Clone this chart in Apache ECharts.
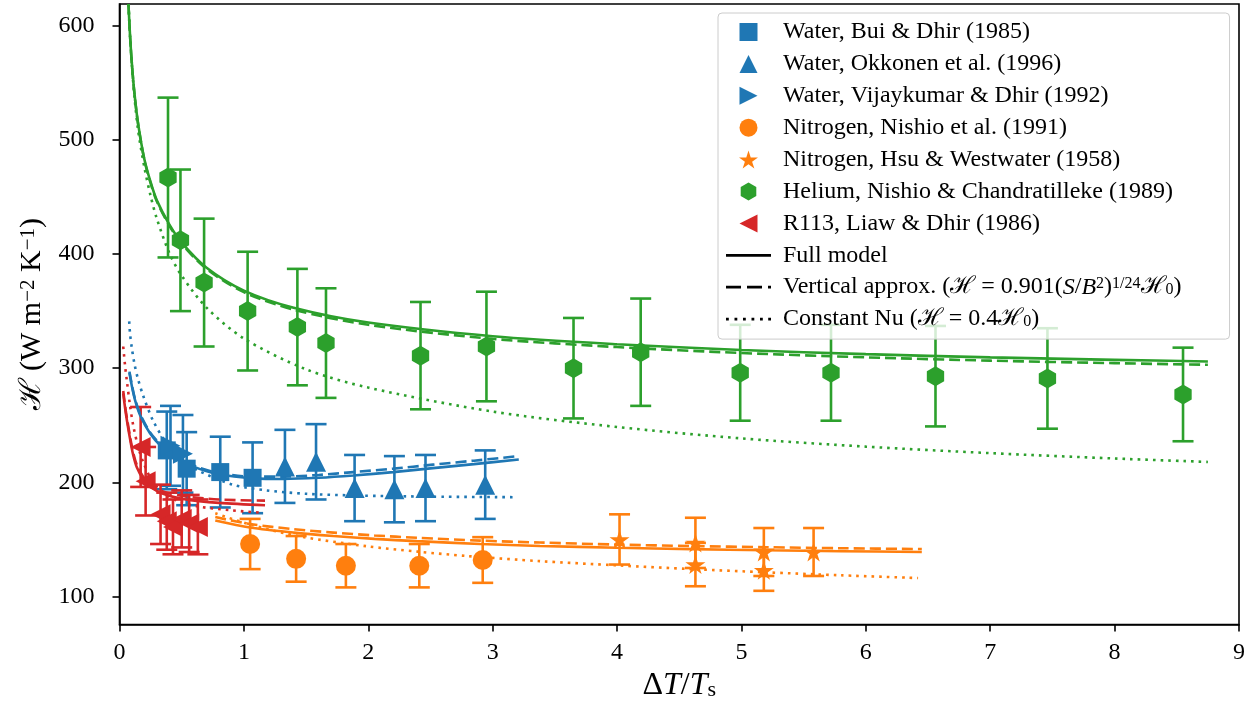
<!DOCTYPE html>
<html>
<head>
<meta charset="utf-8">
<script src="https://cdn.jsdelivr.net/npm/echarts@6/dist/echarts.min.js"></script>
<style>
  html, body { margin: 0; padding: 0; background: #ffffff; }
  #chart { width: 1260px; height: 714px; }
</style>
</head>
<body>
<div id="chart"></div>
<script>
// ---- Measured film-boiling heat transfer coefficients (mean and +/- error) ----
const buiX = [0.38, 0.54, 0.81, 1.07];
const buiY = [228, 212, 209, 204];
const buiErr = [34, 32, 31, 31];

const okkX = [1.33, 1.58, 1.89, 2.21, 2.46, 2.94];
const okkY = [214, 218, 195, 194, 195, 198];
const okkErr = [32, 33, 29, 29, 29, 30];

const vijX = [0.41, 0.51];
const vijY = [232, 225];
const vijErr = [35, 34];

const nisX = [1.05, 1.42, 1.82, 2.41, 2.92];
const nisY = [146, 133, 127, 127, 132];
const nisErr = [22, 20, 19, 19, 20];

const hsuX = [4.02, 4.63, 4.63, 5.18, 5.18, 5.58];
const hsuY = [150, 147, 128, 139, 123, 139];
const hsuErr = [22, 22, 19, 21, 18, 21];

const helX = [0.39, 0.49, 0.68, 1.03, 1.43, 1.66, 2.42, 2.95, 3.65, 4.19, 4.99, 5.72, 6.56, 7.46, 8.55];
const helY = [467, 412, 375, 350, 336, 322, 311, 319, 300, 314, 296, 296, 293, 291, 277];
const helErr = [70, 62, 56, 52, 51, 48, 47, 48, 44, 47, 42, 42, 44, 44, 41];

const r113X = [0.17, 0.21, 0.33, 0.38, 0.43, 0.5, 0.56, 0.63];
const r113Y = [231, 201, 172, 166, 161, 168, 164, 161];
const r113Err = [35, 30, 26, 25, 24, 25, 25, 24];

// ---- Model curves: full model, vertical approximation, constant Nu ----
const waterX = [0.08, 0.1, 0.125, 0.165, 0.245, 0.34, 0.45, 0.59, 0.78, 1.08, 1.32, 1.6, 1.88, 2.2, 2.52, 2.85, 3.21];
const waterFull = [296, 284, 272, 259, 243, 231, 222, 214, 207.5, 203.5, 203, 204, 206, 209, 212.5, 216, 220];
const waterVert = [297, 285, 273, 260, 244, 232, 223, 215, 208.5, 205, 205, 206.5, 209, 212, 215.5, 219, 223];
const waterNuX = [0.078, 0.085, 0.1, 0.12, 0.145, 0.19, 0.27, 0.38, 0.5, 0.62, 0.91, 1.18, 1.5, 1.9, 2.5, 3.2];
const waterNu = [341, 330, 317, 304, 292, 276, 254, 234, 220, 211, 198, 193, 190, 188.5, 187.5, 187];

const nitroX = [0.77, 1.05, 1.4, 1.72, 2.05, 2.39, 2.9, 3.38, 4.0, 4.6, 5.2, 5.8, 6.45];
const nitroFull = [166.6, 160.5, 156, 153, 150.5, 148.5, 146, 144.3, 142.7, 141.5, 140.5, 139.7, 139];
const nitroVert = [169.6, 163.5, 159, 156, 153.5, 151.5, 149, 147.3, 145.5, 144.2, 143.2, 142.3, 141.6];
const nitroNuX = [0.77, 1.05, 1.45, 1.99, 2.4, 2.79, 3.38, 4.0, 4.61, 5.2, 5.8, 6.42];
const nitroNu = [173, 163, 152.7, 144, 139.3, 135.5, 131, 127.3, 124, 121.2, 118.6, 116.2];

const heliumX = [0.072, 0.085, 0.1, 0.12, 0.15, 0.2, 0.25, 0.3, 0.4, 0.5, 0.7, 1.0, 1.4, 2.0, 3.0, 4.0, 5.0, 6.0, 7.0, 8.0, 8.75];
const heliumFull = [619, 591, 566, 541, 514, 483, 463, 447, 426, 410, 388, 368, 353, 340, 328, 321, 316, 312.3, 309.5, 307.3, 305.9];
const heliumVert = [619, 590.5, 565.5, 540.5, 513.5, 482.3, 462.2, 446.2, 425, 409, 387, 366.6, 351.3, 338, 325.7, 318.5, 313.3, 309.5, 306.6, 304.4, 303];
const heliumNuX = [0.072, 0.085, 0.1, 0.12, 0.15, 0.2, 0.25, 0.3, 0.4, 0.5, 0.7, 1.0, 1.5, 2.0, 3.0, 4.0, 5.0, 6.0, 7.0, 8.0, 8.75];
const heliumNu = [619, 591, 565, 538, 508, 476, 451, 431, 401, 381, 353, 326, 299, 283, 262, 248.5, 238.5, 231.3, 225.6, 220.9, 217.9];

const r113LineX = [0.03, 0.045, 0.06, 0.085, 0.11, 0.14, 0.19, 0.245, 0.35, 0.51, 0.8, 1.17];
const r113Full = [278, 265, 254, 238, 224, 213, 203, 196.5, 190, 185.5, 182, 180];
const r113Vert = [280, 267, 256, 240, 226, 215, 205, 198.5, 192, 188, 185, 184];
const r113NuX = [0.03, 0.045, 0.058, 0.085, 0.11, 0.15, 0.19, 0.27, 0.38, 0.5, 0.65, 0.9, 1.13];
const r113Nu = [319, 302, 290, 267, 250, 231, 218, 200, 188.5, 182.5, 178.5, 175.5, 173.5];

// ---- Axes ----
const xTicks = [0, 1, 2, 3, 4, 5, 6, 7, 8, 9];
const yTicks = [100, 200, 300, 400, 500, 600];

const C_WATER = '#1f77b4', C_N2 = '#ff7f0e', C_HE = '#2ca02c', C_R113 = '#d62728';
const FONT = '"Liberation Serif", "DejaVu Serif", serif';
const MARK = 20;
const LW = 2.6;
const DASH = [11, 5];
const DOT = [2.6, 5];

// Marker outlines (unit boxes, scaled by the symbol size)
function starPath() {
  const pts = [];
  for (let i = 0; i < 10; i++) {
    const r = i % 2 ? 0.381966 : 1;
    const a = Math.PI / 2 + i * Math.PI / 5;
    pts.push((10 + 10 * r * Math.cos(a)).toFixed(3) + ',' + (10 - 10 * r * Math.sin(a)).toFixed(3));
  }
  return 'path://M' + pts.join('L') + 'Z';
}
const SYM = {
  square: 'path://M0,0H10V10H0Z',
  up: 'path://M5,0L10,10L0,10Z',
  right: 'path://M0,0L10,5L0,10Z',
  left: 'path://M10,0L0,5L10,10Z',
  hex: 'path://M8.66,0L17.32,5L17.32,15L8.66,20L0,15L0,5Z',
  star: starPath(),
  circle: 'circle'
};

function errorBar(params, api) {
  const x = api.value(0);
  const top = api.coord([x, api.value(2)]);
  const bot = api.coord([x, api.value(1)]);
  const half = 10.5;
  const style = { stroke: api.visual('color'), lineWidth: 2.6 };
  return {
    type: 'group',
    children: [
      { type: 'line', shape: { x1: top[0], y1: top[1], x2: bot[0], y2: bot[1] }, style },
      { type: 'line', shape: { x1: top[0] - half, y1: top[1], x2: top[0] + half, y2: top[1] }, style },
      { type: 'line', shape: { x1: bot[0] - half, y1: bot[1], x2: bot[0] + half, y2: bot[1] }, style }
    ]
  };
}

function measured(name, color, symbol, size, xs, ys, errs) {
  return [
    {
      type: 'custom', name: name + ' (error)', renderItem: errorBar, silent: true, z: 2,
      itemStyle: { color },
      encode: { x: 0, y: [1, 2] },
      data: xs.map((x, i) => [x, ys[i] - errs[i], ys[i] + errs[i]])
    },
    {
      type: 'scatter', name, symbol, symbolSize: size, symbolKeepAspect: true, silent: true, z: 3,
      itemStyle: { color, opacity: 1 },
      data: xs.map((x, i) => [x, ys[i]])
    }
  ];
}

function curve(name, color, dash, xs, ys) {
  return {
    type: 'line', name, symbol: 'none', silent: true, z: 2,
    smooth: 0.3,
    lineStyle: { color, width: LW, type: dash, cap: 'butt' },
    data: xs.map((x, i) => [x, ys[i]])
  };
}

const NAMES = {
  bui: 'Water, Bui & Dhir (1985)',
  okk: 'Water, Okkonen et al. (1996)',
  vij: 'Water, Vijaykumar & Dhir (1992)',
  nis: 'Nitrogen, Nishio et al. (1991)',
  hsu: 'Nitrogen, Hsu & Westwater (1958)',
  hel: 'Helium, Nishio & Chandratilleke (1989)',
  r113: 'R113, Liaw & Dhir (1986)',
  full: 'Full model',
  vert: 'Vertical approx.',
  nu: 'Constant Nu'
};

const legendText = {};
legendText[NAMES.vert] = 'Vertical approx. ({h|ℋ} = 0.901({i|S}/{i|B}{sup|2}){sup|1/24}{h|ℋ}{sub|0})';
legendText[NAMES.nu] = 'Constant Nu ({h|ℋ} = 0.4{h|ℋ}{sub|0})';

const series = [].concat(
  curve('water full', C_WATER, 'solid', waterX, waterFull),
  curve('water vertical', C_WATER, DASH, waterX, waterVert),
  curve('water Nu', C_WATER, DOT, waterNuX, waterNu),
  curve('nitrogen full', C_N2, 'solid', nitroX, nitroFull),
  curve('nitrogen vertical', C_N2, DASH, nitroX, nitroVert),
  curve('nitrogen Nu', C_N2, DOT, nitroNuX, nitroNu),
  curve('helium full', C_HE, 'solid', heliumX, heliumFull),
  curve('helium vertical', C_HE, DASH, heliumX, heliumVert),
  curve('helium Nu', C_HE, DOT, heliumNuX, heliumNu),
  curve('R113 full', C_R113, 'solid', r113LineX, r113Full),
  curve('R113 vertical', C_R113, DASH, r113LineX, r113Vert),
  curve('R113 Nu', C_R113, DOT, r113NuX, r113Nu),
  measured(NAMES.bui, C_WATER, SYM.square, MARK - 2, buiX, buiY, buiErr),
  measured(NAMES.okk, C_WATER, SYM.up, MARK, okkX, okkY, okkErr),
  measured(NAMES.vij, C_WATER, SYM.right, MARK, vijX, vijY, vijErr),
  measured(NAMES.nis, C_N2, SYM.circle, MARK, nisX, nisY, nisErr),
  measured(NAMES.hsu, C_N2, SYM.star, MARK, hsuX, hsuY, hsuErr),
  measured(NAMES.hel, C_HE, SYM.hex, MARK, helX, helY, helErr),
  measured(NAMES.r113, C_R113, SYM.left, MARK, r113X, r113Y, r113Err),
  [NAMES.full, NAMES.vert, NAMES.nu].map(n => ({
    type: 'line', name: n, data: [], symbol: 'none',
    lineStyle: { color: '#000' }, itemStyle: { color: '#000' }
  }))
);

const LEG = 24;
const richMath = {
  h: { fontFamily: FONT, fontSize: LEG, lineHeight: 22 },
  i: { fontFamily: FONT, fontSize: LEG, fontStyle: 'italic', lineHeight: 22 },
  sup: { fontFamily: FONT, fontSize: 16, lineHeight: 9, verticalAlign: 'top' },
  sub: { fontFamily: FONT, fontSize: 16, lineHeight: 9, verticalAlign: 'bottom' }
};

const option = {
  animation: false,
  backgroundColor: '#ffffff',
  grid: {
    left: 119.5, right: 21, top: 4, bottom: 89.5,
    show: true, borderColor: '#000', borderWidth: 1.6,
    containLabel: false, outerBoundsMode: 'none'
  },
  xAxis: {
    type: 'value', min: 0, max: 9, interval: 1,
    axisLine: { show: true, onZero: false, lineStyle: { color: '#000', width: 1.6 } },
    axisTick: { show: true, inside: false, length: 7, lineStyle: { color: '#000', width: 1.6 } },
    axisLabel: { color: '#000', fontFamily: FONT, fontSize: 24, margin: 16, formatter: v => String(v) },
    splitLine: { show: false },
    name: 'Δ{i|T}/{i|T}{sub|s}',
    nameLocation: 'middle', nameGap: 41,
    nameTextStyle: {
      color: '#000', fontFamily: FONT, fontSize: 32, lineHeight: 32,
      rich: {
        i: { fontFamily: FONT, fontSize: 32, fontStyle: 'italic', lineHeight: 32 },
        sub: { fontFamily: FONT, fontSize: 22, lineHeight: 12, verticalAlign: 'bottom' }
      }
    }
  },
  yAxis: {
    type: 'value', min: 75.5, max: 619,
    axisLine: { show: true, onZero: false, lineStyle: { color: '#000', width: 1.6 } },
    axisTick: { show: true, inside: false, length: 7, customValues: yTicks, lineStyle: { color: '#000', width: 1.6 } },
    axisLabel: { color: '#000', fontFamily: FONT, fontSize: 24, margin: 25, customValues: yTicks },
    splitLine: { show: false },
    name: '{h|ℋ} (W m{sup|−2} K{sup|−1})',
    nameLocation: 'middle', nameGap: 66,
    nameTextStyle: {
      color: '#000', fontFamily: FONT, fontSize: 30, lineHeight: 30,
      rich: {
        h: { fontFamily: FONT, fontSize: 30, lineHeight: 30 },
        sup: { fontFamily: FONT, fontSize: 21, lineHeight: 13, verticalAlign: 'top' }
      }
    }
  },
  legend: {
    orient: 'vertical', left: 718, top: 13,
    itemWidth: 45, itemHeight: 18, itemGap: 7.9,
    padding: [7, 48, 8, 8],
    backgroundColor: 'rgba(255,255,255,0.8)',
    borderColor: '#cccccc', borderWidth: 1, borderRadius: 4,
    selectedMode: false,
    textStyle: { color: '#000', fontFamily: FONT, fontSize: LEG, lineHeight: 22, padding: [0, 0, 0, 7], rich: richMath },
    formatter: n => legendText[n] || n,
    data: [
      { name: NAMES.bui, icon: SYM.square },
      { name: NAMES.okk, icon: SYM.up },
      { name: NAMES.vij, icon: SYM.right },
      { name: NAMES.nis, icon: 'path://M10,0A10,10 0 1,1 9.99,0Z' },
      { name: NAMES.hsu, icon: SYM.star },
      { name: NAMES.hel, icon: SYM.hex },
      { name: NAMES.r113, icon: SYM.left },
      { name: NAMES.full, icon: 'path://M0,0H45V2.8H0Z' },
      { name: NAMES.vert, icon: 'path://M0,0H15V2.8H0ZM21,0H36V2.8H21ZM42,0H45V2.8H42Z' },
      { name: NAMES.nu, icon: 'path://M0,0H2.8V2.8H0ZM8.5,0H11.3V2.8H8.5ZM17,0H19.8V2.8H17ZM25.5,0H28.3V2.8H25.5ZM34,0H36.8V2.8H34ZM42.2,0H45V2.8H42.2Z' }
    ]
  },
  series
};

const chart = echarts.init(document.getElementById('chart'), null, { renderer: 'canvas' });
chart.setOption(option);
</script>
</body>
</html>
